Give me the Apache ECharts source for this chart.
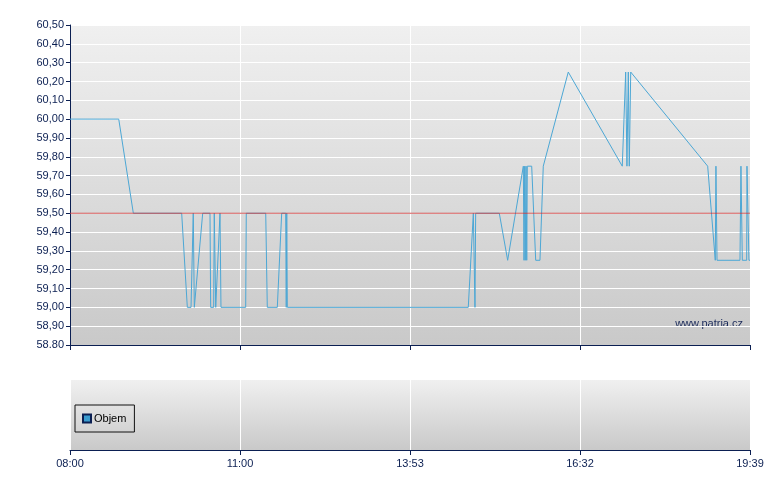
<!DOCTYPE html>
<html>
<head>
<meta charset="utf-8">
<script src="https://cdn.jsdelivr.net/npm/echarts@6/dist/echarts.min.js"></script>
<style>html,body{margin:0;padding:0;background:#fff;}#c{width:780px;height:490px;}</style>
</head>
<body>
<div id="c"></div>
<script>
// minutes since 08:00
var timeLabels = ['08:00', '11:00', '13:53', '16:32', '19:39'];
var yLabels = ['58.80','58,90','59,00','59,10','59,20','59,30','59,40','59,50','59,60','59,70','59,80','59,90','60,00','60,10','60,20','60,30','60,40','60,50'];
var priceMinutes = [0, 50.1, 65.1, 114.8, 120.6, 124.4, 126.7, 127.8, 129.0, 136.4, 143.9, 144.6, 147.7, 148.3, 149.8, 150.8, 154.2, 155.2, 180.6, 181.2, 201.2, 202.8, 213.1, 217.6, 221.7, 222.3, 222.8, 223.4, 409.4, 414.6, 415.6, 416.3, 417.0, 441.3, 449.9, 466.0, 466.7, 467.4, 468.0, 468.8, 469.5, 470.1, 474.6, 478.7, 483.1, 486.5, 512.2, 567.7, 571.2, 572.5, 573.9, 574.9, 576.4, 655.5, 663.3, 664.0, 665.1, 688.7, 689.7, 691.1, 695.6, 695.9, 697.9, 699];
var priceValues = [60.00, 60.00, 59.50, 59.50, 59.00, 59.00, 59.50, 59.00, 59.00, 59.50, 59.50, 59.00, 59.00, 59.50, 59.00, 59.00, 59.50, 59.00, 59.00, 59.50, 59.50, 59.00, 59.00, 59.50, 59.50, 59.00, 59.50, 59.00, 59.00, 59.50, 59.50, 59.00, 59.50, 59.50, 59.25, 59.75, 59.25, 59.75, 59.25, 59.75, 59.25, 59.75, 59.75, 59.25, 59.25, 59.75, 60.25, 59.75, 60.25, 59.75, 60.25, 59.75, 60.25, 59.75, 59.25, 59.75, 59.25, 59.25, 59.75, 59.25, 59.25, 59.75, 59.25, 59.25];
var referencePrice = 59.50;
var volumeValues = [];

var navy = '#0b1f52';
var font = 'Liberation Sans';
var totalMin = 699;
var step = totalMin / 4;

var priceData = priceMinutes.map(function (m, i) { return [m, priceValues[i]]; });
var refData = [[0, referencePrice], [totalMin, referencePrice]];

function bg() {
  return new echarts.graphic.LinearGradient(0, 0, 0, 1, [
    { offset: 0, color: '#f0f0f0' },
    { offset: 1, color: '#c9c9c9' }
  ]);
}

function xAxisCfg(gi, showLabels) {
  return {
    type: 'value', gridIndex: gi, min: 0, max: totalMin, interval: step,
    axisLine: { show: true, lineStyle: { color: navy, width: 1 } },
    axisTick: { show: true, length: 5, lineStyle: { color: navy } },
    axisLabel: {
      show: showLabels, color: navy, fontFamily: font, fontSize: 11, margin: 8,
      formatter: function (v) { return timeLabels[Math.round(v / step)] || ''; }
    },
    splitLine: { show: true, lineStyle: { color: '#ffffff', width: 1 } }
  };
}

var chart = echarts.init(document.getElementById('c'), null, { renderer: 'canvas' });
chart.setOption({
  animation: false,
  backgroundColor: '#ffffff',
  grid: [
    { left: 70, top: 25, width: 680, height: 320, show: true, backgroundColor: bg(), borderWidth: 0 },
    { left: 70, top: 380, width: 680, height: 70, show: true, backgroundColor: bg(), borderWidth: 0 }
  ],
  xAxis: [xAxisCfg(0, false), xAxisCfg(1, true)],
  yAxis: [
    {
      type: 'value', gridIndex: 0, min: 58.8, max: 60.5, interval: 0.1,
      axisLine: { show: true, lineStyle: { color: navy, width: 1 } },
      axisTick: { show: true, length: 4, lineStyle: { color: navy } },
      axisLabel: {
        color: navy, fontFamily: font, fontSize: 11, margin: 6,
        formatter: function (v) { return yLabels[Math.round((v - 58.8) * 10)] || ''; }
      },
      splitLine: { show: true, lineStyle: { color: '#ffffff', width: 1 } }
    },
    {
      type: 'value', gridIndex: 1, show: false, min: 0, max: 1,
      splitLine: { show: false }
    }
  ],
  legend: {
    data: [{ name: 'Objem', icon: 'rect' }],
    left: 75, top: 405,
    orient: 'vertical',
    padding: [8, 8, 8, 7],
    itemWidth: 8, itemHeight: 8, itemGap: 4,
    borderColor: '#111', borderWidth: 1, backgroundColor: 'rgba(0,0,0,0)',
    textStyle: { color: '#000', fontFamily: font, fontSize: 11, padding: [0, 0, 0, -2] }
  },
  graphic: [
    {
      type: 'text', right: 780 - 743, top: 318,
      style: { text: 'www.patria.cz', fill: '#1a2a5a', font: '11px "Liberation Sans"' }
    }
  ],
  series: [
    {
      name: 'Kurz', type: 'line', xAxisIndex: 0, yAxisIndex: 0,
      data: priceData, symbol: 'none', showSymbol: false,
      lineStyle: { color: '#4ca7d5', width: 1 },
      itemStyle: { color: '#4ca7d5' },
      z: 3
    },
    {
      name: 'Reference', type: 'line', xAxisIndex: 0, yAxisIndex: 0,
      data: refData, symbol: 'none', showSymbol: false, silent: true,
      lineStyle: { color: '#cc3c3c', width: 1.2, opacity: 0.85 },
      itemStyle: { color: '#cc3c3c' },
      z: 4
    },
    {
      name: 'Objem', type: 'bar', xAxisIndex: 1, yAxisIndex: 1,
      data: volumeValues,
      itemStyle: { color: '#3a9ccf', borderColor: '#0b1f52', borderWidth: 1 }
    }
  ]
});
</script>
</body>
</html>
